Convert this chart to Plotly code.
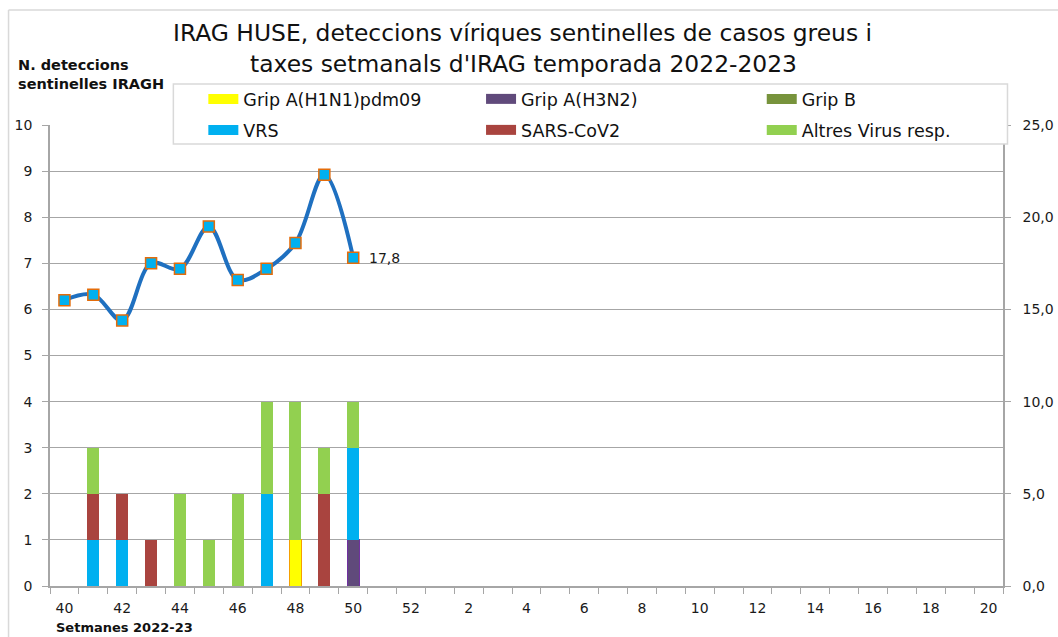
import plotly.graph_objects as go

weeks = [str(w) for w in range(40, 53)] + [str(w) for w in range(1, 21)]
data_weeks = ["40", "41", "42", "43", "44", "45", "46", "47", "48", "49", "50"]

h1n1 = [0, 0, 0, 0, 0, 0, 0, 0, 1, 0, 0]
h3n2 = [0, 0, 0, 0, 0, 0, 0, 0, 0, 0, 1]
gripb = [0, 0, 0, 0, 0, 0, 0, 0, 0, 0, 0]
vrs = [0, 1, 1, 0, 0, 0, 0, 2, 0, 0, 2]
sars = [0, 1, 1, 1, 0, 0, 0, 0, 0, 2, 0]
altres = [0, 1, 0, 0, 2, 1, 2, 2, 3, 1, 1]
taxa = [15.5, 15.8, 14.4, 17.5, 17.2, 19.5, 16.6, 17.2, 18.6, 22.3, 17.8]

tick_labels = [w if i % 2 == 0 else "" for i, w in enumerate(weeks)]

series = [
    ("Grip A(H1N1)pdm09", h1n1, "#FFFF00", "#F5A000", 1),
    ("Grip A(H3N2)", h3n2, "#604A7B", "#7030A0", 1),
    ("Grip B", gripb, "#77933C", "#77933C", 0),
    ("VRS", vrs, "#00B0F0", "#00B0F0", 0),
    ("SARS-CoV2", sars, "#A9443F", "#A9443F", 0),
    ("Altres Virus resp.", altres, "#92D050", "#92D050", 0),
]

W, H = 1058, 637
# plot-area geometry (pixels): left 49.5, right 1003.5, top 125, bottom 586
PL, PR, PT, PB = 49.5, 1003.5, 125, 586
def px(x):
    return (x - PL) / (PR - PL)
def py(y):
    return (PB - y) / (PB - PT)

# legend grid: item left edges (pixels) for the 3 columns, row centres
leg_cols = [203, 481, 762]
leg_rows = [99, 130]

fig = go.Figure()
for name, vals, col, lcol, lw in series:
    fig.add_trace(go.Bar(
        x=data_weeks, y=vals, name=name, width=0.415, showlegend=False,
        marker=dict(color=col, line=dict(color=lcol, width=lw)),
    ))

legend_layouts = {}
legfont = dict(family="DejaVu Sans", size=17.5, color="#111111")
for i, (name, vals, col, lcol, lw) in enumerate(series):
    key = "legend" if i == 0 else f"legend{i + 1}"
    fig.add_trace(go.Scatter(
        x=[None], y=[None], name=name, mode="lines", legend=key,
        line=dict(color=col, width=10), showlegend=True,
    ))
    legend_layouts[key] = dict(
        orientation="h", x=px(leg_cols[i % 3]), y=py(leg_rows[i // 3]),
        xanchor="left", yanchor="middle",
        bgcolor="rgba(0,0,0,0)", borderwidth=0, font=legfont,
    )

fig.add_trace(go.Scatter(
    x=data_weeks, y=taxa, yaxis="y2", mode="lines+markers",
    line=dict(color="#1F70C0", width=4, shape="spline", smoothing=1),
    marker=dict(symbol="square", size=11, color="#00B0F0",
                line=dict(color="#E46C0A", width=1.5)),
    showlegend=False, cliponaxis=False,
))

grid = "#A6A6A6"
tickfont = dict(family="DejaVu Sans", size=14, color="#1A1A1A")
titlefont = dict(family="DejaVu Sans", size=23.4, color="#111111")

fig.update_layout(
    width=W, height=H,
    margin=dict(l=PL, r=W - PR, t=PT, b=H - PB),
    paper_bgcolor="white", plot_bgcolor="white",
    barmode="stack", separators=",.",
    xaxis=dict(
        type="category", categoryorder="array", categoryarray=weeks,
        tickmode="array", tickvals=weeks, ticktext=tick_labels,
        tickson="boundaries", ticks="outside", ticklen=6, tickcolor=grid,
        showline=True, linecolor=grid, linewidth=1.5, showgrid=False,
        range=[-0.5, len(weeks) - 0.5], ticklabelstandoff=8,
        tickfont=tickfont, automargin=False,
    ),
    yaxis=dict(
        range=[0, 10], dtick=1, showgrid=True, gridcolor=grid, gridwidth=1.3,
        ticks="outside", ticklen=6, tickcolor=grid, ticklabelstandoff=7,
        showline=True, linecolor=grid, linewidth=1.5, zeroline=False,
        tickfont=tickfont, automargin=False,
    ),
    yaxis2=dict(
        overlaying="y", side="right", range=[0, 25], dtick=5,
        tickformat=".1f", showgrid=False, zeroline=False,
        ticks="outside", ticklen=6, tickcolor=grid, ticklabelstandoff=9,
        showline=True, linecolor=grid, linewidth=1.5,
        tickfont=tickfont, automargin=False,
    ),
    shapes=[
        dict(type="rect", xref="paper", yref="paper",
             x0=px(173), x1=px(1008), y0=py(144), y1=py(84),
             fillcolor="white", line=dict(color="#D9D9D9", width=1.5), layer="above"),
        dict(type="line", xref="paper", yref="paper",
             x0=px(8), x1=px(1070), y0=py(10), y1=py(10),
             line=dict(color="#D9D9D9", width=1.5)),
        dict(type="line", xref="paper", yref="paper",
             x0=px(8), x1=px(8), y0=py(650), y1=py(10),
             line=dict(color="#D9D9D9", width=1.5)),
    ],
    annotations=[
        dict(text="IRAG HUSE, deteccions víriques sentinelles de casos greus i",
             xref="paper", yref="paper", x=px(522.5), y=py(33),
             xanchor="center", yanchor="middle", showarrow=False, font=titlefont),
        dict(text="taxes setmanals d'IRAG temporada 2022-2023",
             xref="paper", yref="paper", x=px(523.5), y=py(64),
             xanchor="center", yanchor="middle", showarrow=False, font=titlefont),
        dict(text="<b>N. deteccions<br>sentinelles IRAGH</b>", xref="paper", yref="paper",
             x=px(15), y=py(75), xanchor="left", yanchor="middle",
             align="left", showarrow=False,
             font=dict(family="DejaVu Sans", size=14.5, color="#111111")),
        dict(text="<b>Setmanes 2022-23</b>", xref="paper", yref="paper",
             x=px(54), y=py(627), xanchor="left", yanchor="middle",
             align="left", showarrow=False,
             font=dict(family="DejaVu Sans", size=13, color="#111111")),
        dict(text=f"{taxa[-1]:.1f}".replace(".", ","),
             x=weeks.index(data_weeks[-1]), y=taxa[-1],
             xref="x", yref="y2", xanchor="left", yanchor="middle",
             xshift=14, showarrow=False,
             font=dict(family="DejaVu Sans", size=14, color="#1A1A1A")),
    ],
    **legend_layouts,
)

# remove the browser's default page margin and scrollbars so the figure fills the window exactly
fig.write_html(
    "out.html",
    config={"displayModeBar": False},
    post_script=(
        "document.body.style.margin='0';"
        "document.body.style.overflow='hidden';"
        "document.documentElement.style.overflow='hidden';"
    ),
)
